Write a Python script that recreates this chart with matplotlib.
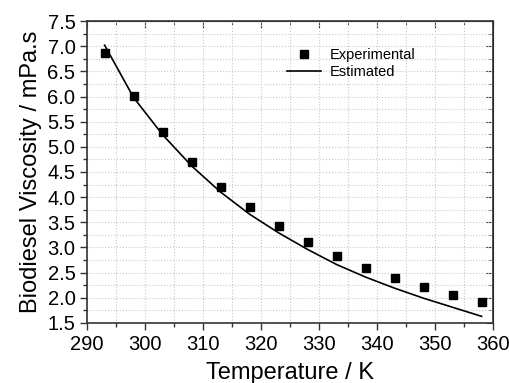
import numpy as np
import matplotlib.pyplot as plt
from matplotlib.ticker import MultipleLocator

plt.rcParams['font.family'] = ['Liberation Sans', 'DejaVu Sans']

temp_exp = [293, 298, 303, 308, 313, 318, 323, 328, 333, 338, 343, 348, 353, 358]
visc_exp = [6.86, 6.01, 5.29, 4.69, 4.21, 3.81, 3.43, 3.10, 2.83, 2.60, 2.39, 2.21, 2.05, 1.91]

temp_est = [293, 298, 303, 308, 313, 318, 323, 328, 333, 338, 343, 348, 353, 358]
visc_est = [7.02, 5.98, 5.24, 4.62, 4.10, 3.66, 3.29, 2.96, 2.66, 2.41, 2.19, 1.99, 1.81, 1.63]


def main():
    fig = plt.figure(figsize=(5.1, 3.83), dpi=100)
    ax = fig.add_axes([0.171, 0.157, 0.796, 0.788])

    ax.plot(temp_exp, visc_exp, 's', color='black', markersize=5.5, label='Experimental')
    ax.plot(temp_est, visc_est, '-', color='black', linewidth=1.2, label='Estimated')

    ax.set_xlim(290, 360)
    ax.set_ylim(1.5, 7.5)
    ax.xaxis.set_major_locator(MultipleLocator(10))
    ax.xaxis.set_minor_locator(MultipleLocator(5))
    ax.yaxis.set_major_locator(MultipleLocator(0.5))
    ax.yaxis.set_minor_locator(MultipleLocator(0.25))
    ax.yaxis.set_major_formatter(plt.FormatStrFormatter('%.1f'))

    ax.grid(True, which='both', linestyle=':', color='#c8c8c8', linewidth=0.8)
    ax.set_axisbelow(True)

    # left/bottom ticks out, top/right ticks in
    ax.tick_params(which='both', direction='out', top=False, right=False,
                   labelsize=14.5, width=1, color='#333333')
    ax.tick_params(which='major', length=5)
    ax.tick_params(which='minor', length=3)
    ax2 = ax.secondary_xaxis('top')
    ax2.xaxis.set_major_locator(MultipleLocator(10))
    ax2.xaxis.set_minor_locator(MultipleLocator(5))
    ax2.tick_params(which='both', direction='in', labeltop=False, color='#333333')
    ax2.tick_params(which='major', length=5)
    ax2.tick_params(which='minor', length=3)
    ax2.set_xticklabels([])
    ay2 = ax.secondary_yaxis('right')
    ay2.yaxis.set_major_locator(MultipleLocator(0.5))
    ay2.yaxis.set_minor_locator(MultipleLocator(0.25))
    ay2.tick_params(which='both', direction='in', labelright=False, color='#333333')
    ay2.tick_params(which='major', length=5)
    ay2.tick_params(which='minor', length=3)
    ay2.set_yticklabels([])

    for sp in ax.spines.values():
        sp.set_color('#333333')
        sp.set_linewidth(1.2)

    ax.set_xlabel('Temperature / K', fontsize=17, labelpad=6)
    ax.set_ylabel('Biodiesel Viscosity / mPa.s', fontsize=17, labelpad=4)

    ax.legend(loc='upper right', bbox_to_anchor=(0.84, 0.955), frameon=False,
              fontsize=10.5, handlelength=2.3, handletextpad=0.6, labelspacing=0.25)

    fig.savefig('out.png', dpi=100)


if __name__ == '__main__':
    main()
